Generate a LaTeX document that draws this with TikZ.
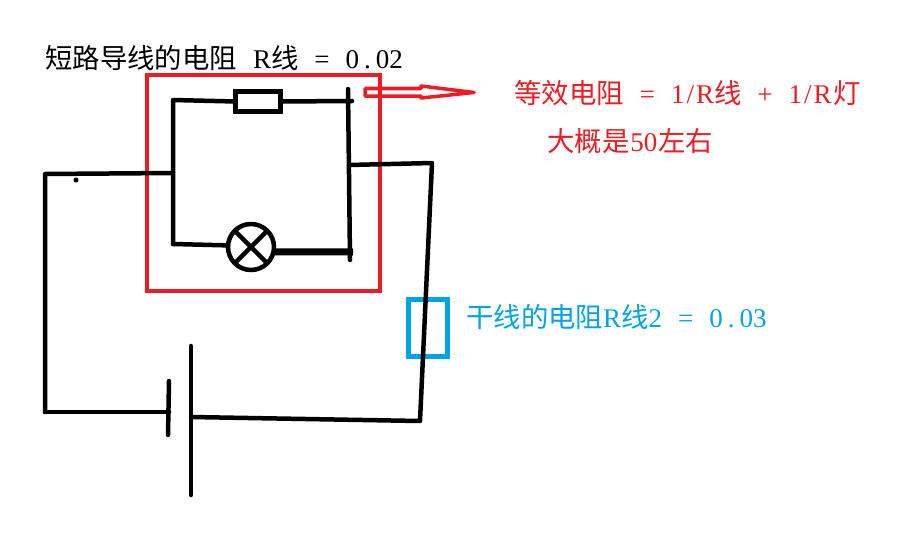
\documentclass[tikz,border=0pt]{standalone}
\usepackage{fontspec}
\setmainfont{Liberation Serif}
\newfontfamily\cjk{Noto Sans CJK SC}
\newcommand{\hz}[1]{{\cjk\fontsize{27.4}{30}\selectfont #1}}
\newcommand{\numdot}{\kern5pt.\kern5pt}
\newcommand{\gap}{\kern16pt}
\newcommand{\oneover}{1\kern2pt/\kern2pt}
\usetikzlibrary{positioning,calc}
\definecolor{paintred}{HTML}{ED1C24}
\definecolor{paintblue}{HTML}{00A2E8}
\tikzset{
    wire/.style = {
        draw,
        line width=4.5pt,
        line cap=round,
        line join=round
    },
    box/.style = {
        draw,
        shape=rectangle,
        outer sep=0pt,
        inner sep=0pt,
        line width=4.5pt
    },
    lamp/.style = {
        draw,
        shape=circle,
        outer sep=0pt,
        inner sep=0pt,
        minimum size=46pt,
        line width=4.5pt
    },
    labeltext/.style = {
        anchor=base west,
        inner sep=0pt,
        font=\fontsize{27}{30}\selectfont
    },
}

\begin{document}
\begin{tikzpicture}[x=1pt,y=-1pt]
                \useasboundingbox (0,0) rectangle (897,535);

                \node[box,color=paintred,minimum width=233pt,minimum height=216pt] (redbox) at (263.5,183) {};
                \node[box,color=paintblue,minimum width=39pt,minimum height=57pt] (bluebox) at (428,328) {};
                \node[box,fill=white,minimum width=45pt,minimum height=20pt] (res) at (258,101.5) {};
                \node[lamp] (bulb) at (251,247) {};

                \coordinate (lefttop) at (45,174);
                \coordinate (leftbot) at (45,412);
                \coordinate (parleft) at (173,173);
                \coordinate (partop) at (173,100);
                \coordinate (parbot) at (173,244);
                \coordinate (barup) at (348,89);
                \coordinate (barmid) at (349,165);
                \coordinate (bardown) at (350,260);
                \coordinate (toprt) at (352,101);
                \coordinate (botrt) at (353,252);
                \coordinate (corner) at (432,163);
                \coordinate (lowcorner) at (420,421);
                \coordinate (platea) at (169,381);
                \coordinate (plateb) at (168,435);
                \coordinate (shortmid) at (169,412);
                \coordinate (longtop) at (191,346);
                \coordinate (longbot) at (191,495);
                \coordinate (longmid) at (191,417);

                \path[wire] (leftbot) -- (lefttop) -- (parleft);
                \path[wire] (leftbot) -- (shortmid);
                \path[wire] (platea) -- (plateb);
                \path[wire] (longtop) -- (longbot);
                \path[wire] (longmid) -- (lowcorner) -- (corner) -- (barmid);
                \path[wire] (parbot) -- (partop) -- (res.west);
                \path[wire] (res.east) -- (toprt);
                \path[wire] (barup) -- (bardown);
                \path[wire] (parbot) -- (bulb.176);
                \path[wire,line width=7pt,line cap=butt] (bulb.-12) -- (botrt);
                \path[draw,line width=4.5pt] (bulb.45) -- (bulb.225);
                \path[draw,line width=4.5pt] (bulb.135) -- (bulb.315);
                \path[fill] (76,180) circle (2.5pt);

                % hollow arrow
                \path[draw,color=paintred,line width=3.5pt,line join=round]
                    (365,88.5) -- (421,88.5) -- (421,86) -- (474,92.5) -- (421,98)
                    -- (421,96) -- (365,96) -- cycle;

                \node[labeltext] (titletext) at (45,69) {\hz{短路导线的电阻}\gap R\hz{线}\gap =\gap 0\numdot 02};
                \node[labeltext,color=paintred] (eqtext) at (514,103) {\hz{等效电阻}\gap =\gap \oneover R\hz{线}\gap +\gap \oneover R\kern2pt\hz{灯}};
                \node[labeltext,color=paintred] (abouttext) at (547,151) {\hz{大概是}\kern1pt 50\kern1pt\hz{左右}};
                \node[labeltext,color=paintblue] (maintext) at (466,327) {\hz{干线的电阻}R\hz{线}2\gap =\gap 0\numdot 03};
            \end{tikzpicture}
\end{document}
